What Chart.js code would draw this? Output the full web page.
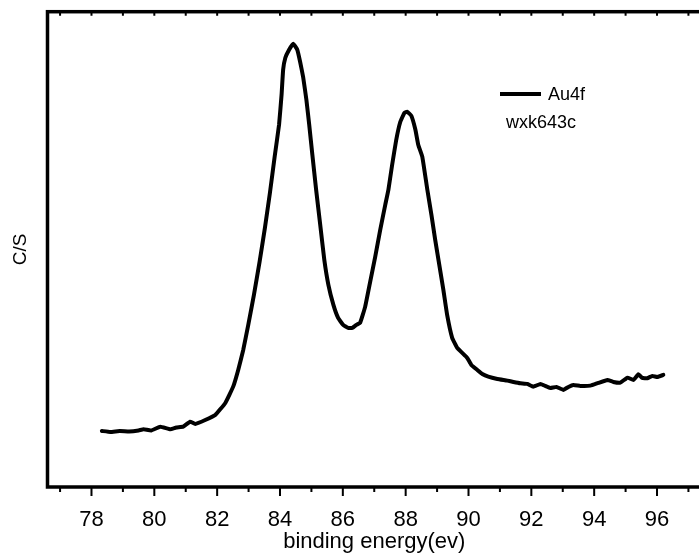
<!DOCTYPE html>
<html>
<head>
<meta charset="utf-8">
<script src="https://cdn.jsdelivr.net/npm/chart.js@4"></script>
<style>
  body { margin: 0; overflow: hidden; background: #fff; }
  #wrap { width: 699px; height: 555px; overflow: hidden; }
</style>
</head>
<body>
<div id="wrap"><canvas id="xpsChart" width="721" height="555"></canvas></div>
<script>
// Au4f spectrum
const energy = [78.33, 78.6, 78.9, 79.2, 79.5, 79.66, 79.9, 80.19, 80.51, 80.7, 80.92, 81.14, 81.3, 81.62, 81.94,
  82.26, 82.51, 82.67, 82.83, 82.99, 83.17, 83.35, 83.52, 83.68, 83.83, 83.97, 84.05, 84.1, 84.17, 84.29,
  84.42, 84.55, 84.64, 84.74, 84.84, 84.93, 85.03, 85.15, 85.28, 85.41, 85.54, 85.7, 85.85, 86.01, 86.17,
  86.3, 86.43, 86.55, 86.71, 86.87, 87.03, 87.19, 87.35, 87.45, 87.57, 87.7, 87.83, 87.96, 88.05, 88.18,
  88.31, 88.4, 88.53, 88.69, 88.82, 88.94, 89.07, 89.2, 89.32, 89.48, 89.64, 89.8, 89.96, 90.09, 90.28,
  90.44, 90.63, 90.92, 91.24, 91.43, 91.65, 91.87, 92.06, 92.29, 92.44, 92.6, 92.8, 93.02, 93.18, 93.34,
  93.56, 93.88, 94.13, 94.42, 94.61, 94.83, 95.06, 95.25, 95.41, 95.53, 95.69, 95.85, 96.01, 96.2];
const counts = [5600, 5500, 5600, 5550, 5650, 5770, 5650, 6030, 5770, 5950, 6030, 6530, 6300, 6700, 7200,
  8400, 10030, 11700, 13700, 16200, 19200, 22500, 25900, 29400, 33000, 36200, 39200, 41700, 42900, 43700,
  44300, 43700, 42500, 40900, 38700, 36200, 33200, 29700, 26200, 22700, 20200, 18200, 16900, 16200, 15900,
  15900, 16200, 16400, 18000, 20500, 23000, 25700, 28200, 29700, 32200, 34700, 36500, 37400, 37500, 37100,
  35700, 34200, 33000, 29700, 27200, 24700, 22200, 19700, 17200, 14900, 13900, 13400, 12900, 12200, 11700,
  11300, 11030, 10800, 10630, 10500, 10370, 10300, 10030, 10300, 10100, 9900, 10000, 9700, 10000, 10200,
  10100, 10130, 10400, 10700, 10500, 10430, 10930, 10700, 11270, 10900, 10870, 11100, 11000, 11200];
const xTickLabels = [78, 80, 82, 84, 86, 88, 90, 92, 94, 96];

const FONT = "'Liberation Sans', Arial, sans-serif";

// box, tick marks and the little legend
const framePlugin = {
  id: 'frame',
  afterDraw(chart) {
    const { ctx, chartArea: a, scales: { x } } = chart;
    ctx.save();
    ctx.strokeStyle = '#000';
    ctx.lineWidth = 3.5;
    ctx.strokeRect(a.left, a.top, a.right - a.left, a.bottom - a.top);
    ctx.lineWidth = 2;
    for (let v = Math.ceil(x.min); v <= x.max; v++) {
      const px = x.getPixelForValue(v);
      const major = xTickLabels.includes(v);
      ctx.beginPath();
      ctx.moveTo(px, a.bottom);
      ctx.lineTo(px, a.bottom + (major ? 9 : 5));
      ctx.moveTo(px, a.top);
      ctx.lineTo(px, a.top + 4);
      ctx.stroke();
    }
    ctx.lineWidth = 4;
    ctx.beginPath();
    ctx.moveTo(500, 94);
    ctx.lineTo(541, 94);
    ctx.stroke();
    ctx.fillStyle = '#000';
    ctx.font = '18px ' + FONT;
    ctx.textBaseline = 'middle';
    ctx.fillText('Au4f', 548, 95);
    ctx.fillText('wxk643c', 506, 123);
    ctx.restore();
  }
};

const ctx = document.getElementById('xpsChart').getContext('2d');
new Chart(ctx, {
  type: 'line',
  data: {
    datasets: [{
      label: 'Au4f',
      data: energy.map((e, i) => ({ x: e, y: counts[i] })),
      borderColor: '#000',
      borderWidth: 4,
      pointRadius: 0,
      tension: 0.1,
      borderJoinStyle: 'round',
      borderCapStyle: 'round'
    }]
  },
  options: {
    responsive: false,
    animation: false,
    devicePixelRatio: 1,
    layout: { padding: { top: 11.7, right: 0, left: 0, bottom: 0 } },
    scales: {
      x: {
        type: 'linear',
        min: 76.6,
        max: 97.4,
        grid: { display: false, drawTicks: false },
        border: { display: false },
        ticks: {
          stepSize: 1,
          autoSkip: false,
          maxRotation: 0,
          padding: 20,
          color: '#000',
          font: { family: FONT, size: 22 },
          callback: (v) => xTickLabels.includes(v) ? String(v) : ''
        },
        title: {
          display: true,
          text: 'binding energy(ev)',
          color: '#000',
          font: { family: FONT, size: 22 },
          padding: { top: 2, bottom: 0 }
        },
        afterFit: (scale) => { scale.height = 68; }
      },
      y: {
        min: 0,
        max: 47500,
        grid: { display: false, drawTicks: false },
        border: { display: false },
        ticks: { display: false },
        title: {
          display: true,
          text: 'C/S',
          color: '#000',
          font: { family: FONT, size: 19 },
          padding: { top: 9.6, bottom: 0 }
        },
        afterFit: (scale) => { scale.width = 47.5; }
      }
    },
    plugins: {
      legend: { display: false },
      tooltip: { enabled: false }
    }
  },
  plugins: [framePlugin]
});
</script>
</body>
</html>
